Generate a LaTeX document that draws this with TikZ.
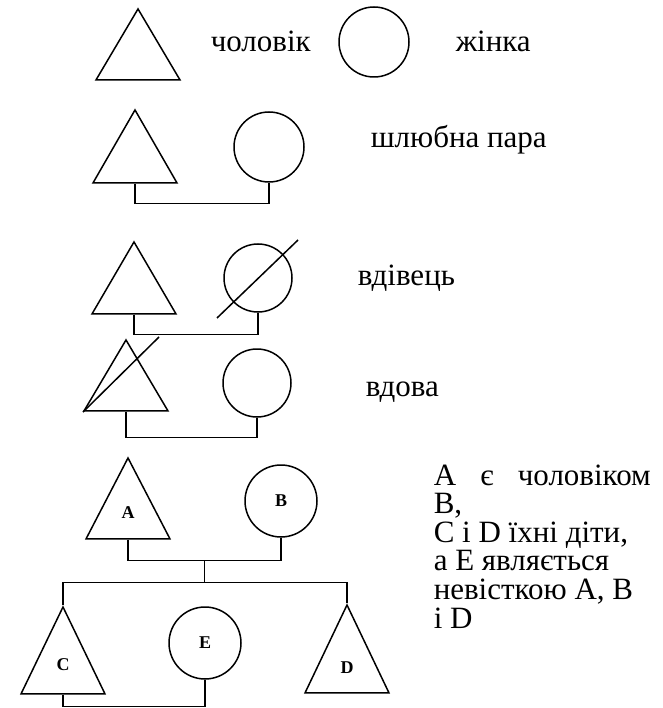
\documentclass[tikz,border=0pt]{standalone}
\usepackage{fontspec}
\setmainfont{Liberation Serif}
\usetikzlibrary{shapes.geometric, calc}

\begin{document}
\begin{tikzpicture}[x = 1pt, y = -1pt, line width = 1.5pt,
                    man/.style = {isosceles triangle, isosceles triangle stretches, shape border rotate = 90,
                                  draw, inner sep = 0pt, minimum width = 84pt, minimum height = 71pt, anchor = apex},
                    woman/.style = {circle, draw, inner sep = 0pt, minimum size = #1,
                                    font = \bfseries\fontsize{18}{18}\selectfont},
                    woman/.default = 70pt,
                    lab/.style = {anchor = center, inner sep = 0pt, yshift = #1, font = \bfseries\fontsize{18}{18}\selectfont},
                    word/.style = {anchor = base west, inner sep = 0pt, font = \fontsize{31}{28.6}\selectfont}]
      \useasboundingbox (0, 0) rectangle (662, 708);
      % legend
      \node [man] (m1) at (138, 7){};
      \node [word] (t1) at (210, 52){чоловік};
      \node [woman] (w1) at (374, 42){};
      \node [word] (t2) at (455, 52){жінка};
      % couple
      \node [man, minimum height = 73pt] (m2) at (135, 108){};
      \node [woman] (w2) at (269, 147){};
      \node [word] (t3) at (370, 148){шлюбна пара};
      \draw (m2.lower side) -- ++(0, 20) -| (w2.south);
      % widower
      \node [man, minimum height = 72pt] (m3) at (134, 240){};
      \node [woman = 68pt] (w3) at (258, 278){};
      \node [word] (t4) at (357, 285){вдівець};
      \draw (m3.lower side) -- ++(0, 20) -| (w3.south);
      \draw ([shift = {(-41, 40)}]w3.center) -- ([shift = {(40, -38)}]w3.center);
      % widow
      \node [man] (m4) at (126, 338){};
      \node [woman = 68pt] (w4) at (257, 383){};
      \node [word] (t5) at (365, 396){вдова};
      \draw (m4.lower side) -- ++(0, 26) -| (w4.south);
      \draw ([shift = {(-43, 74)}]m4.apex) -- ([shift = {(33, -1)}]m4.apex);
      % family
      \node [man, minimum height = 81pt, label = {[lab = 27pt]south:A}] (a) at (128, 456){};
      \node [woman = 72pt] (b) at (281, 501){B};
      \node [man, minimum height = 87pt, label = {[lab = 30pt]south:C}] (c) at (63, 605){};
      \node [woman = 72pt] (e) at (205, 643){E};
      \node [man, minimum height = 88pt, label = {[lab = 26pt]south:D}] (d) at (347, 603){};
      \draw (a.lower side) -- ++(0, 21) coordinate (ab) -| (b.south);
      \draw ($(ab)!0.5!(ab -| b.south)$) -- ++(0, 22) coordinate (kids);
      \draw (c.apex) |- (kids) -| (d.apex);
      \draw (c.lower side) -- ++(0, 12) -| (e.south);
      \node [word, align = left] (t6) at (433, 628){\makebox[217pt][s]{A є чоловіком}\\B,\\C і D їхні діти,\\а Е являється\\невісткою А, В\\і D};
    \end{tikzpicture}
\end{document}
